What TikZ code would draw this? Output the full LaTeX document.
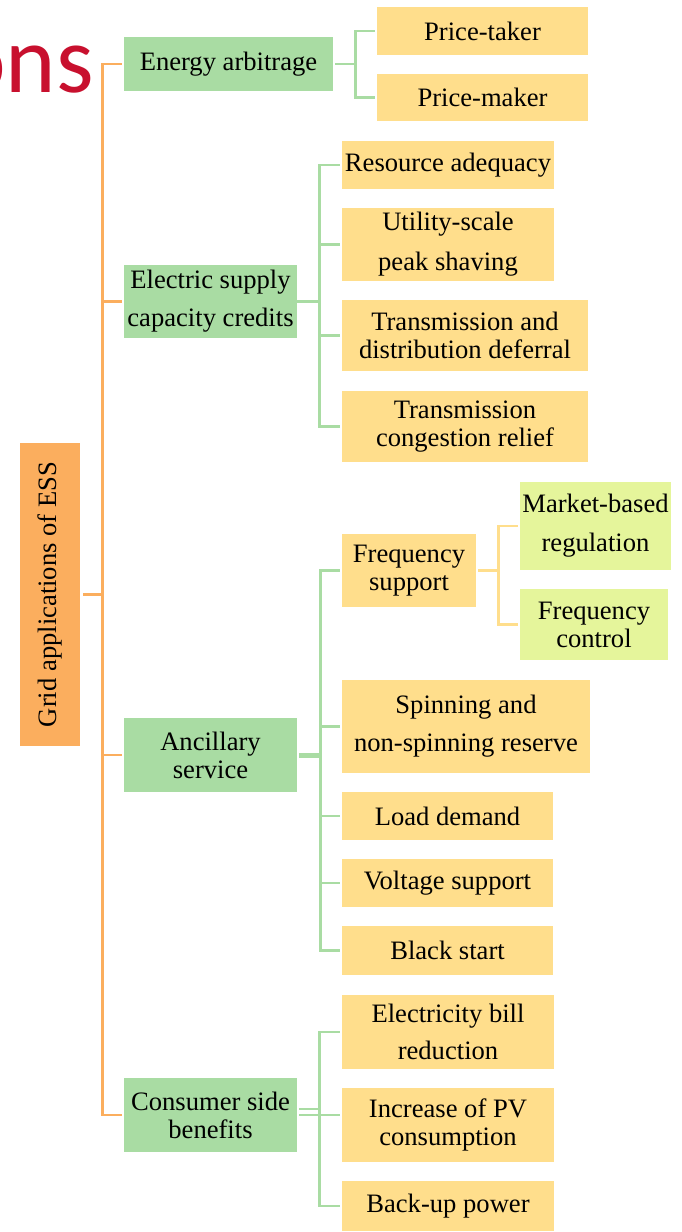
\documentclass[tikz,border=0pt]{standalone}
\usepackage{fontspec}
\setmainfont{Liberation Serif}
\newfontfamily\calib{Carlito}
\definecolor{boxgreen}{HTML}{A9DCA3}
\definecolor{boxyellow}{HTML}{FFDE8C}
\definecolor{boxlime}{HTML}{E5F59B}
\definecolor{boxorange}{HTML}{FBAE5E}
\definecolor{onsred}{HTML}{C8102E}
\tikzset{
  bx/.style={rectangle, inner sep=0pt, align=center, text=black,
    font=\fontsize{26.6}{28}\selectfont},
  gbox/.style={bx, fill=boxgreen},
  ybox/.style={bx, fill=boxyellow},
  lbox/.style={bx, fill=boxlime},
  obox/.style={bx, fill=boxorange},
  oline/.style={draw=boxorange, line width=2.6pt},
  gline/.style={draw=boxgreen, line width=2.6pt},
  yline/.style={draw=boxyellow, line width=2.6pt},
}
\begin{document}
\begin{tikzpicture}[x=1pt,y=-1pt]
\useasboundingbox (0,0) rectangle (681,1232);
\begin{scope}
\clip (0,0) rectangle (681,1232);
\node[anchor=base west, inner sep=0pt, text=onsred, font=\calib\fontsize{96}{96}\selectfont] (title) at (-45,92) {ons};
\end{scope}
% root
\node[obox, rotate=90, minimum width=303pt, minimum height=60pt] (root) at (50,594.5) {Grid applications of ESS};
% level 1
\node[gbox, minimum width=209pt, minimum height=54pt] (ea) at (228.5,64) {Energy arbitrage};
\node[gbox, minimum width=173pt, minimum height=73pt] (esc) at (210.5,301.5) {Electric supply\\[10pt]capacity credits};
\node[gbox, minimum width=173pt, minimum height=74pt] (anc) at (210.5,755) {Ancillary\\service};
\node[gbox, minimum width=173pt, minimum height=74pt] (csb) at (210.5,1115) {Consumer side\\benefits};
% level 2
\node[ybox, minimum width=211pt, minimum height=48pt] (pt) at (482.5,31) {Price-taker};
\node[ybox, minimum width=211pt, minimum height=47pt] (pm) at (482.5,97.5) {Price-maker};
\node[ybox, minimum width=212pt, minimum height=48pt] (ra) at (448,165) {Resource adequacy};
\node[ybox, minimum width=212pt, minimum height=73pt] (us) at (448,244.5) {Utility-scale\\[12pt]peak shaving};
\node[ybox, minimum width=246pt, minimum height=71pt] (td) at (465,335.5) {Transmission and\\distribution deferral};
\node[ybox, minimum width=246pt, minimum height=71pt] (tc) at (465,426.5) {Transmission\\congestion relief};
\node[ybox, minimum width=134pt, minimum height=73pt] (fs) at (409,570.5) {Frequency\\support};
\node[ybox, minimum width=248pt, minimum height=93pt] (sr) at (466,726.5) {Spinning and\\[10pt]non-spinning reserve};
\node[ybox, minimum width=211pt, minimum height=48pt] (ld) at (447.5,816) {Load demand};
\node[ybox, minimum width=211pt, minimum height=48pt] (vs) at (447.5,883) {Voltage support};
\node[ybox, minimum width=211pt, minimum height=49pt] (bs) at (447.5,950.5) {Black start};
\node[ybox, minimum width=212pt, minimum height=74pt] (eb) at (448,1032) {Electricity bill\\[9pt]reduction};
\node[ybox, minimum width=212pt, minimum height=74pt] (pv) at (448,1125) {Increase of PV\\consumption};
\node[ybox, minimum width=212pt, minimum height=50pt] (bp) at (448,1206) {Back-up power};
% level 3
\node[lbox, minimum width=151pt, minimum height=88pt] (mbr) at (595.5,526) {Market-based\\[11pt]regulation};
\node[lbox, minimum width=148pt, minimum height=71pt] (fc) at (594,624.5) {Frequency\\control};
% orange trunk
\draw[oline] ([xshift=3pt]root.south) -- ++(19,0) coordinate (tr);
\draw[oline] ([xshift=-2pt]ea.west) -- (ea.west -| tr) -- (csb.west -| tr) -- ([xshift=-2pt]csb.west);
\draw[oline] ([xshift=-2pt]esc.west) -- (esc.west -| tr);
\draw[oline] ([xshift=-2pt]anc.west) -- (anc.west -| tr);
% energy arbitrage
\draw[gline] ([xshift=2pt]ea.east) -- ++(20,0) coordinate (e0);
\draw[gline] ([xshift=-2pt]pt.west) -- (pt.west -| e0) -- (pm.west -| e0) -- ([xshift=-2pt]pm.west);
% electric supply
\draw[gline] (esc.east) -- ++(22,0) coordinate (e1);
\draw[gline] ([xshift=-2pt]ra.west) -- (ra.west -| e1) -- (tc.west -| e1) -- ([xshift=-2pt]tc.west);
\draw[gline] ([xshift=-2pt]us.west) -- (us.west -| e1);
\draw[gline] ([xshift=-2pt]td.west) -- (td.west -| e1);
% ancillary
\draw[gline, line width=5pt] ([xshift=2pt]anc.east) -- ++(21,0) coordinate (e2);
\draw[gline] ([xshift=-2pt]fs.west) -- (fs.west -| e2) -- (bs.west -| e2) -- ([xshift=-2pt]bs.west);
\draw[gline] ([xshift=-2pt]sr.west) -- (sr.west -| e2);
\draw[gline] ([xshift=-2pt]ld.west) -- (ld.west -| e2);
\draw[gline] ([xshift=-2pt]vs.west) -- (vs.west -| e2);
% frequency support
\draw[yline] ([xshift=2pt]fs.east) -- ++(20,0) coordinate (e3);
\draw[yline] ([xshift=-2pt]mbr.west) -- (mbr.west -| e3) -- (fc.west -| e3) -- ([xshift=-2pt]fc.west);
% consumer side
\draw[gline] ([xshift=2pt]csb.east) -- ++(20,0) coordinate (e4);
\draw[gline] ([xshift=2pt,yshift=6pt]csb.east) -- ([yshift=6pt]csb.east -| e4);
\draw[gline] ([xshift=-2pt]eb.west) -- (eb.west -| e4) -- (bp.west -| e4) -- ([xshift=-2pt]bp.west);
\draw[gline] (csb.east -| e4) -- ([xshift=-2pt]csb.east -| pv.west);
\end{tikzpicture}
\end{document}
